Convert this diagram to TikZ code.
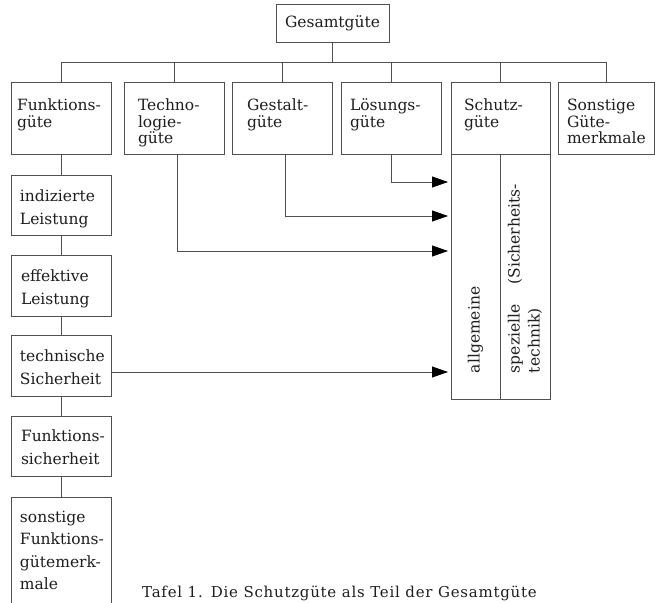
\documentclass[tikz,border=0pt]{standalone}
\usepackage{fontspec}
\setmainfont{DejaVu Serif}
\usetikzlibrary{arrows.meta}
\definecolor{line-grey}{HTML}{505050}
\definecolor{text-grey}{HTML}{1E1E1E}
\newcommand{\boxfont}{\fontsize{15.5pt}{16.5pt}\selectfont}
\newcommand{\colfont}{\fontsize{15.5pt}{22.5pt}\selectfont}
\newcommand{\cell}[5]{\parbox[c][#2][t]{#1}{\vspace*{#4}\raggedright\leftskip=#3\relax #5}}

\begin{document}
\begin{tikzpicture}[x=1pt, y=-1pt,
        every node/.style={text=text-grey},
        gbox/.style={draw=line-grey, line width=0.8pt, inner sep=0pt},
        link/.style={draw=line-grey, line width=0.8pt},
        arr/.style={link, -{Triangle[length=16pt,width=11pt,color=black]}, shorten >=3pt}]
      \useasboundingbox (0,0) rectangle (655,602);
      \clip (0,0) rectangle (655,602);
      \node[gbox, font=\boxfont, minimum width=113pt, minimum height=38pt] (ges) at (332.5,23) {Gesamtgüte};
      \node[gbox, font=\boxfont] (funk) at (61,118) {\cell{100pt}{72pt}{6pt}{17pt}{Funktions-\\güte}};
      \node[gbox, font=\boxfont] (tech) at (174,118) {\cell{100pt}{72pt}{14pt}{17pt}{Techno-\\logie-\\güte}};
      \node[gbox, font=\boxfont] (gest) at (282,118) {\cell{100pt}{72pt}{15pt}{17pt}{Gestalt-\\güte}};
      \node[gbox, font=\boxfont] (loes) at (391,118) {\cell{100pt}{72pt}{9pt}{17pt}{Lösungs-\\güte}};
      \node[gbox, font=\boxfont] (schutz) at (500.5,118) {\cell{99pt}{72pt}{13pt}{17pt}{Schutz-\\güte}};
      \node[gbox, font=\boxfont] (sonst) at (606,118) {\cell{96pt}{72pt}{9pt}{17pt}{Sonstige\\Güte-\\merkmale}};
      \node[gbox, font=\colfont] (ind) at (61,205) {\cell{100pt}{60pt}{9pt}{15pt}{indizierte\\Leistung}};
      \node[gbox, font=\colfont] (eff) at (61,285.5) {\cell{100pt}{61pt}{10pt}{15pt}{effektive\\Leistung}};
      \node[gbox, font=\colfont] (tsich) at (61,365.5) {\cell{100pt}{61pt}{9pt}{15pt}{technische\\Sicherheit}};
      \node[gbox, font=\colfont] (fsich) at (61,446) {\cell{100pt}{60pt}{10pt}{14pt}{Funktions-\\sicherheit}};
      \node[gbox, font=\colfont] (sonstf) at (61,554.5) {\cell{100pt}{115pt}{9pt}{14pt}{sonstige\\Funktions-\\gütemerk-\\male}};
      \node[gbox, font=\boxfont, rotate=90] (allg) at (475.5,276.5)
        {\parbox[c][49pt][c]{245pt}{\raggedright\leftskip=26pt\relax allgemeine}};
      \node[gbox, font=\fontsize{15.5pt}{20pt}\selectfont, rotate=90] (spez) at (525,276.5)
        {\parbox[c][50pt][c]{245pt}{\raggedright\leftskip=26pt\relax spezielle\hspace{20pt}(Sicherheits-\\technik)}};
      \node[anchor=base west, inner sep=0pt, font=\fontsize{15pt}{18pt}\selectfont\addfontfeatures{LetterSpace=5}] (cap) at (142,597)
        {Tafel 1.\hspace{8pt}Die Schutzgüte als Teil der Gesamtgüte};
      \coordinate (bus) at (332.5,62);
      \draw[link] (ges.south) -- (bus);
      \draw[link] (funk.north |- bus) -- (sonst.north |- bus);
      \foreach \n in {funk,tech,gest,loes,schutz,sonst}
        \draw[link] (\n.north) -- (\n.north |- bus);
      \foreach \a/\b in {funk/ind,ind/eff,eff/tsich,tsich/fsich,fsich/sonstf}
        \draw[link] (\a.south) -- (\b.north);
      \coordinate (in1) at (451,182);
      \coordinate (in2) at (451,216);
      \coordinate (in3) at (451,251);
      \coordinate (in4) at (451,372);
      \draw[arr] (loes.south) |- (in1);
      \draw[arr] ([xshift=3pt]gest.south) |- (in2);
      \draw[arr] ([xshift=3pt]tech.south) |- (in3);
      \draw[arr] (tsich.east |- in4) -- (in4);
    \end{tikzpicture}
\end{document}
